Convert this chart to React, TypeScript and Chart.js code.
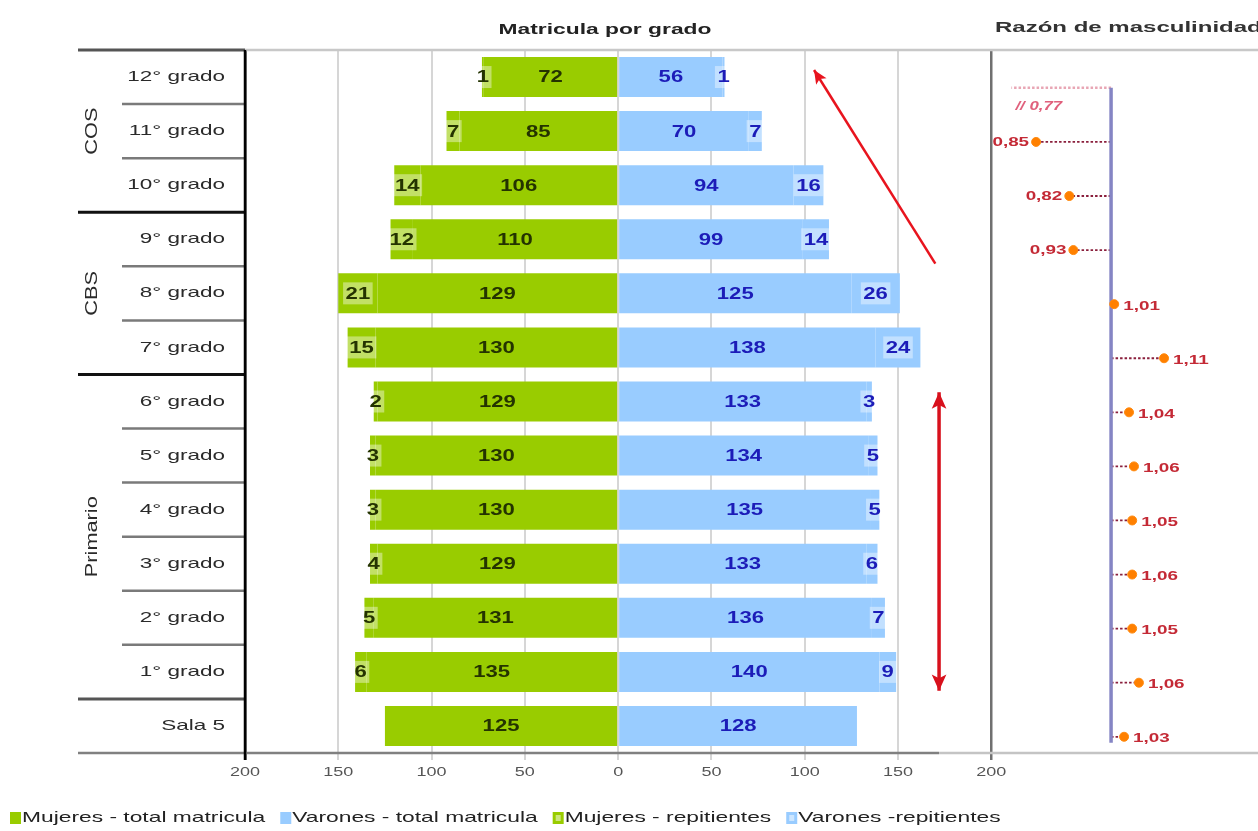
import { useEffect, useRef } from 'react';
import { Chart, registerables } from 'chart.js';

Chart.register(...registerables);

// ---------- data ----------
const grades = ['12° grado', '11° grado', '10° grado', '9° grado', '8° grado', '7° grado', '6° grado', '5° grado', '4° grado', '3° grado', '2° grado', '1° grado', 'Sala 5'];
const mujeresTotal = [72, 85, 106, 110, 129, 130, 129, 130, 130, 129, 131, 135, 125];
const varonesTotal = [56, 70, 94, 99, 125, 138, 133, 134, 135, 133, 136, 140, 128];
const mujeresRep = [1, 7, 14, 12, 21, 15, 2, 3, 3, 4, 5, 6, 0];
const varonesRep = [1, 7, 16, 14, 26, 24, 3, 5, 5, 6, 7, 9, 0];
// masculinity ratio: point positions as read on the ratio scale, and the printed labels
const ratioPosition = [0.778, 0.833, 0.907, 0.916, 1.007, 1.118, 1.04, 1.051, 1.047, 1.047, 1.047, 1.062, 1.029];
const ratioText = ['0,77', '0,85', '0,82', '0,93', '1,01', '1,11', '1,04', '1,06', '1,05', '1,06', '1,05', '1,06', '1,03'];
const ratioBreak = 0.8; // values below are drawn with an axis break
const groups = [
  { label: 'COS', start: 0, end: 2 },
  { label: 'CBS', start: 3, end: 5 },
  { label: 'Primario', start: 6, end: 11 },
];
const xTicks = [-200, -150, -100, -50, 0, 50, 100, 150, 200];
const xTickLabels = ['200', '150', '100', '50', '0', '50', '100', '150', '200'];
// annotation arrows in data units (x value, row index)
const arrows = [
  { from: [170, 3.45], to: [105, -0.13], both: false },
  { from: [172, 11.35], to: [172, 5.83], both: true },
];
const titleBars = 'Matricula por grado';
const titleRatio = 'Razón de masculinidad';

// ---------- styles ----------
const GREEN = '#99cc00';
const BLUE = '#99ccff';
const FONT = '"Liberation Sans", Arial, sans-serif';

function sText(ctx: CanvasRenderingContext2D, text: string, x: number, y: number, font: string, color: string, align: CanvasTextAlign = 'left', sx = 1.5) {
  ctx.save();
  ctx.font = font;
  ctx.fillStyle = color;
  ctx.textAlign = align;
  ctx.textBaseline = 'middle';
  ctx.translate(x, y);
  ctx.scale(sx, 1);
  ctx.fillText(text, 0, 0);
  ctx.restore();
}

function line(ctx: CanvasRenderingContext2D, x1: number, y1: number, x2: number, y2: number, color: string, w: number, dash: number[] = []) {
  ctx.save();
  ctx.strokeStyle = color;
  ctx.lineWidth = w;
  ctx.setLineDash(dash);
  ctx.beginPath();
  ctx.moveTo(x1, y1);
  ctx.lineTo(x2, y2);
  ctx.stroke();
  ctx.restore();
}

function head(ctx: CanvasRenderingContext2D, fx: number, fy: number, tx: number, ty: number, color: string, s: number) {
  const a = Math.atan2(ty - fy, tx - fx);
  ctx.save();
  ctx.fillStyle = color;
  ctx.beginPath();
  ctx.moveTo(tx, ty);
  ctx.lineTo(tx - s * Math.cos(a - 0.42), ty - s * Math.sin(a - 0.42));
  ctx.lineTo(tx - s * 0.7 * Math.cos(a), ty - s * 0.7 * Math.sin(a));
  ctx.lineTo(tx - s * Math.cos(a + 0.42), ty - s * Math.sin(a + 0.42));
  ctx.closePath();
  ctx.fill();
  ctx.restore();
}

const decor = {
  id: 'decor',
  beforeDatasetsDraw(chart: any) {
    const { ctx, scales } = chart;
    const x2 = scales.x2, y2 = scales.y2;
    const xOne = x2.getPixelForValue(1);
    ratioPosition.forEach((v, i) => {
      const py = y2.getPixelForValue(i);
      const px = x2.getPixelForValue(v);
      const broken = v < ratioBreak;
      line(ctx, xOne, py, px, py, broken ? '#e8a6b4' : '#8a1f3c', broken ? 2.5 : 1.8, [2.5, 2]);
    });
    line(ctx, xOne, y2.getPixelForValue(0), xOne, y2.getPixelForValue(grades.length - 1) + 6, '#8585c4', 3.5);
  },
  afterDatasetsDraw(chart: any) {
    const { ctx, scales, chartArea: ca } = chart;
    const x = scales.x, y = scales.y, x2 = scales.x2, y2 = scales.y2;
    const half = (y.getPixelForValue(1) - y.getPixelForValue(0)) / 2;
    const farLeft = 78, nearLeft = 122;

    // bar labels
    const labelColors = ['#243300', '#1c1cb8', '#243300', '#1c1cb8'];
    for (let di = 0; di < 4; di++) {
      const meta = chart.getDatasetMeta(di);
      meta.data.forEach((el: any, i: number) => {
        const raw = chart.data.datasets[di].data[i];
        if (raw === null || raw === 0) return;
        const cx = (el.x + el.base) / 2;
        const txt = String(Math.abs(raw));
        const font = `bold 16px ${FONT}`;
        if (di >= 2) {
          ctx.save();
          ctx.font = font;
          const w = ctx.measureText(txt).width * 1.38 + 5;
          ctx.fillStyle = 'rgba(255,255,255,0.4)';
          ctx.fillRect(cx - w / 2, el.y - 11, w, 22);
          ctx.restore();
        }
        sText(ctx, txt, cx, el.y + 1, font, labelColors[di], 'center', 1.38);
      });
    }

    // ratio labels
    ratioPosition.forEach((v, i) => {
      const py = y2.getPixelForValue(i);
      const px = x2.getPixelForValue(v);
      if (v < ratioBreak) {
        sText(ctx, '// ' + ratioText[i], px + 4, py + 19, `italic bold 12px ${FONT}`, '#e0607c', 'left', 1.4);
      } else if (v < 1) {
        sText(ctx, ratioText[i], px - 7, py, `bold 13px ${FONT}`, '#c42a36', 'right', 1.45);
      } else {
        sText(ctx, ratioText[i], px + 9, py + 2, `bold 13px ${FONT}`, '#c42a36', 'left', 1.45);
      }
    });

    // arrows
    arrows.forEach((a) => {
      const fx = x.getPixelForValue(a.from[0]), fy = y.getPixelForValue(a.from[1]);
      const tx = x.getPixelForValue(a.to[0]), ty = y.getPixelForValue(a.to[1]);
      const col = a.both ? '#d8101c' : '#e8141e';
      line(ctx, fx, fy, tx, ty, col, a.both ? 3.5 : 2.5);
      head(ctx, fx, fy, tx, ty, col, a.both ? 18 : 15);
      if (a.both) head(ctx, tx, ty, fx, fy, col, 18);
    });

    // row labels
    grades.forEach((g, i) => {
      sText(ctx, g, ca.left - 20, y.getPixelForValue(i), `15px ${FONT}`, '#2a2a2a', 'right', 1.5);
    });

    // separators
    const topY = y.getPixelForValue(0) - half;
    line(ctx, farLeft, topY, ca.left, topY, '#555', 3);
    line(ctx, ca.left, topY, chart.width, topY, '#c8c8c8', 2.5);
    grades.forEach((_, i) => {
      const by = y.getPixelForValue(i) + half;
      if (i === grades.length - 1) return;
      const isEnd = groups.some((gr) => gr.end === i);
      if (isEnd) line(ctx, farLeft, by, ca.left, by, i === groups[groups.length - 1].end ? '#555' : '#111', 3);
      else line(ctx, nearLeft, by, ca.left, by, '#7a7a7a', 2.5);
    });
    const botY = ca.bottom;
    line(ctx, farLeft, botY, x.getPixelForValue(172), botY, '#808080', 2.5);
    line(ctx, x.getPixelForValue(172), botY, chart.width, botY, '#c4c4c4', 2.5);
    line(ctx, ca.left, ca.top, ca.left, botY + 7, '#000', 2.5);

    // group labels
    groups.forEach((gr) => {
      const cy = (y.getPixelForValue(gr.start) + y.getPixelForValue(gr.end)) / 2;
      ctx.save();
      ctx.translate(92, cy);
      ctx.rotate(-Math.PI / 2);
      ctx.scale(1.45, 1.1);
      ctx.font = `15px ${FONT}`;
      ctx.fillStyle = '#2a2a2a';
      ctx.textAlign = 'center';
      ctx.textBaseline = 'middle';
      ctx.fillText(gr.label, 0, 0);
      ctx.restore();
    });

    // x tick labels
    xTicks.forEach((v, i) => {
      sText(ctx, xTickLabels[i], x.getPixelForValue(v), botY + 20, `12px ${FONT}`, '#555', 'center', 1.5);
    });

    // titles
    sText(ctx, titleBars, 605, 30, `bold 15px ${FONT}`, '#222', 'center', 1.52);
    sText(ctx, titleRatio, 995, 28, `bold 15px ${FONT}`, '#333', 'left', 1.6);

    // legend
    let lx = 10;
    const ly = 818;
    chart.data.datasets.slice(0, 4).forEach((ds: any, i: number) => {
      ctx.save();
      ctx.fillStyle = ds.backgroundColor;
      ctx.fillRect(lx, ly - 6, 11, 12);
      if (i >= 2) {
        ctx.fillStyle = 'rgba(255,255,255,0.5)';
        ctx.fillRect(lx + 3, ly - 3, 5, 6);
      }
      ctx.font = `15px ${FONT}`;
      const w = ctx.measureText(ds.label).width * 1.52;
      ctx.restore();
      sText(ctx, ds.label, lx + 12, ly, `15px ${FONT}`, '#222', 'left', 1.52);
      lx += 12 + w + 15;
    });
  },
};

export default function App() {
  const ref = useRef<HTMLCanvasElement>(null);
  useEffect(() => {
    document.body.style.margin = '0';
    const chart = new Chart(ref.current as HTMLCanvasElement, {
      type: 'bar',
      data: {
        labels: grades,
        datasets: [
          { label: 'Mujeres - total matricula', data: mujeresTotal.map((v) => -v), backgroundColor: GREEN, stack: 's' },
          { label: 'Varones - total matricula', data: varonesTotal, backgroundColor: BLUE, stack: 's' },
          { label: 'Mujeres - repitientes', data: mujeresRep.map((v) => (v === 0 ? null : -v)), backgroundColor: GREEN, stack: 's' },
          { label: 'Varones -repitientes', data: varonesRep.map((v) => (v === 0 ? null : v)), backgroundColor: BLUE, stack: 's' },
          {
            type: 'scatter',
            label: 'Razón de masculinidad',
            data: ratioPosition.map((v, i) => ({ x: v, y: i })),
            xAxisID: 'x2',
            yAxisID: 'y2',
            showLine: false,
            pointRadius: (c: any) => (ratioPosition[c.dataIndex] < ratioBreak ? 0 : 4.5),
            pointBackgroundColor: '#ff8000',
            pointBorderColor: '#ff8a10',
            pointBorderWidth: 1,
          } as any,
        ],
      },
      options: {
        indexAxis: 'y',
        animation: false,
        responsive: true,
        maintainAspectRatio: false,
        events: [],
        layout: { padding: { left: 245, top: 50, right: 0, bottom: 71 } },
        datasets: { bar: { barPercentage: 0.74, categoryPercentage: 1, grouped: false } },
        plugins: { legend: { display: false }, tooltip: { enabled: false }, title: { display: false } },
        scales: {
          x: {
            type: 'linear',
            min: -200,
            max: 340,
            stacked: true,
            afterBuildTicks: (s: any) => {
              s.ticks = xTicks.map((v) => ({ value: v }));
            },
            ticks: { display: false },
            border: { display: false },
            grid: {
              drawTicks: true,
              tickLength: 7,
              color: (c: any) => (c.tick && c.tick.value === 200 ? '#707070' : c.tick && c.tick.value === -200 ? '#000' : '#d6d6d6'),
              lineWidth: (c: any) => (c.tick && Math.abs(c.tick.value) === 200 ? 2.5 : 2),
            },
          },
          y: { type: 'category', stacked: true, display: false, offset: true },
          x2: { type: 'linear', min: -0.929, max: 1.315, display: false, offset: false, beginAtZero: false },
          y2: { type: 'linear', min: -0.7, max: 12.3, reverse: true, display: false, offset: false },
        },
      },
      plugins: [decor],
    } as any);
    return () => chart.destroy();
  }, []);
  return (
    <div style={{ position: 'absolute', left: 0, top: 0, width: 1258, height: 831 }}>
      <canvas ref={ref} />
    </div>
  );
}
